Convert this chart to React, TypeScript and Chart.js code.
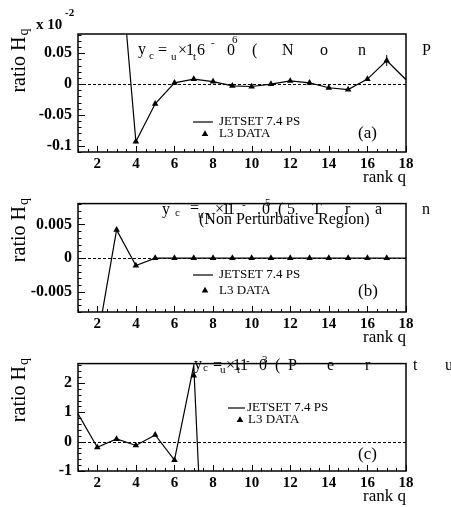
import React, { useEffect, useRef } from "react";
import { Chart, registerables } from "chart.js";
Chart.register(...registerables);

const FONT = '"Liberation Serif", "Times New Roman", serif';

// x axis (rank q)
const Q_TICKS = [2, 4, 6, 8, 10, 12, 14, 16, 18];

// Panel (a)
const A_JETSET_Q = [3, 4, 5, 6, 7, 8, 9, 10, 11, 12, 13, 14, 15, 16, 17, 18];
const A_JETSET = [0.27, -0.093, -0.032, 0.002, 0.008, 0.004, -0.003, -0.004, 0.0, 0.005, 0.002, -0.006, -0.009, 0.008, 0.038, 0.007];
const A_L3_Q = [4, 5, 6, 7, 8, 9, 10, 11, 12, 13, 14, 15, 16, 17];
const A_L3 = [-0.093, -0.032, 0.002, 0.008, 0.004, -0.003, -0.004, 0.0, 0.005, 0.002, -0.006, -0.009, 0.008, 0.038];
const A_L3_ERR = [0, 0, 0, 0, 0, 0, 0, 0, 0, 0, 0, 0, 0, 0.009];
const A_Y_TICKS = [-0.1, -0.05, 0, 0.05];
const A_Y_LABELS = ["-0.1", "-0.05", "0", "0.05"];

// Panel (b)
const B_JETSET_Q = [2, 3, 4, 5, 6, 7, 8, 9, 10, 11, 12, 13, 14, 15, 16, 17, 18];
const B_JETSET = [-0.0123, 0.0042, -0.0011, 0, 0, 0, 0, 0, 0, 0, 0, 0, 0, 0, 0, 0, 0];
const B_L3_Q = [3, 4, 5, 6, 7, 8, 9, 10, 11, 12, 13, 14, 15, 16, 17];
const B_L3 = [0.0042, -0.0011, 0, 0, 0, 0, 0, 0, 0, 0, 0, 0, 0, 0, 0];
const B_L3_ERR = [0, 0, 0, 0, 0, 0, 0, 0, 0, 0, 0, 0, 0, 0, 0];
const B_Y_TICKS = [-0.005, 0, 0.005];
const B_Y_LABELS = ["-0.005", "0", "0.005"];

// Panel (c)
const C_JETSET_Q = [1, 2, 3, 4, 5, 6, 7, 8];
const C_JETSET = [0.95, -0.19, 0.09, -0.13, 0.23, -0.63, 2.6, -11.8];
const C_L3_Q = [2, 3, 4, 5, 6, 7];
const C_L3 = [-0.19, 0.09, -0.13, 0.23, -0.63, 2.25];
const C_L3_ERR = [0, 0, 0, 0, 0, 0];
const C_Y_TICKS = [-1, 0, 1, 2];
const C_Y_LABELS = ["-1", "0", "1", "2"];

type Glyph = [string, number, number, number];

interface PanelDef {
  top: number;
  height: number;
  padTop: number;
  yMin: number;
  yMax: number;
  yMinor: number;
  yMajor: number;
  jq: number[];
  jv: number[];
  lq: number[];
  lv: number[];
  le: number[];
  yt: number[];
  yl: string[];
  tag: string;
  legend: { lx1: number; lx2: number; ly: number; tx: number; tx2: number; triX: number; triY: number; tagX: number; tagY: number };
  glyphs: Glyph[];
  multiplier: boolean;
}

const PANELS: PanelDef[] = [
  {
    top: 0, height: 188, padTop: 34,
    yMin: -0.11, yMax: 0.081, yMinor: 0.01, yMajor: 0.05,
    jq: A_JETSET_Q, jv: A_JETSET, lq: A_L3_Q, lv: A_L3, le: A_L3_ERR,
    yt: A_Y_TICKS, yl: A_Y_LABELS, tag: "(a)",
    legend: { lx1: 193, lx2: 213, ly: 122, tx: 219, tx2: 219, triX: 205, triY: 134, tagX: 358, tagY: 134 },
    glyphs: [
      ["y", 138, 50, 16], ["c", 149, 56, 11], ["=", 158, 51, 16], ["u", 171, 57, 11],
      ["\u00d7", 178, 51, 16], ["1", 186, 51, 16], ["t", 193, 57, 11], ["6", 197, 51, 16],
      ["-", 211, 43, 11], ["0", 227, 51, 16], ["6", 232, 40, 11], ["(", 252, 51, 16],
      ["N", 282, 51, 16], ["o", 320, 51, 16], ["n", 358, 51, 16], ["P", 422, 51, 16],
    ],
    multiplier: true,
  },
  {
    top: 188, height: 160, padTop: 5,
    yMin: -0.008, yMax: 0.0081, yMinor: 0.001, yMajor: 0.005,
    jq: B_JETSET_Q, jv: B_JETSET, lq: B_L3_Q, lv: B_L3, le: B_L3_ERR,
    yt: B_Y_TICKS, yl: B_Y_LABELS, tag: "(b)",
    legend: { lx1: 193, lx2: 213, ly: 87, tx: 219, tx2: 219, triX: 205, triY: 102.5, tagX: 358, tagY: 103.5 },
    glyphs: [
      ["y", 162, 22, 16], ["c", 175, 25, 11], ["=", 190, 21, 16], ["u", 198, 27, 11],
      ["\u00d7", 215, 22, 16], ["1", 222, 22, 16], ["t", 207, 28, 11], ["1", 227, 22, 16],
      ["-", 242, 17, 11], [".", 257, 22, 16], ["0", 262, 22, 16], ["5", 265, 15, 11],
      ["(", 278, 22, 16], ["5", 287, 22, 16], ["T", 312, 22, 16], ["r", 345, 22, 16],
      ["a", 375, 22, 16], ["n", 422, 22, 16],
      ["(Non Perturbative Region)", 199, 32, 16],
    ],
    multiplier: false,
  },
  {
    top: 348, height: 159, padTop: 5,
    yMin: -1, yMax: 2.66, yMinor: 0.2, yMajor: 1,
    jq: C_JETSET_Q, jv: C_JETSET, lq: C_L3_Q, lv: C_L3, le: C_L3_ERR,
    yt: C_Y_TICKS, yl: C_Y_LABELS, tag: "(c)",
    legend: { lx1: 228, lx2: 245, ly: 60, tx: 247, tx2: 248, triX: 240, triY: 72, tagX: 358, tagY: 107 },
    glyphs: [
      ["y", 194, 17, 16], ["c", 203, 20, 11], ["=", 213, 18, 16], ["u", 220, 22, 11],
      ["\u00d7", 226, 18, 16], ["1", 233, 18, 16], ["t", 237, 22, 11], ["1", 240, 18, 16],
      ["-", 246, 13, 11], ["0", 259, 18, 16], ["3", 262, 12, 11], ["(", 275, 18, 16],
      ["P", 288, 18, 16], ["e", 327, 18, 16], ["r", 365, 18, 16], ["t", 413, 18, 16],
      ["u", 445, 18, 16],
    ],
    multiplier: false,
  },
];

function triangle(ctx: CanvasRenderingContext2D, x: number, y: number, r: number) {
  ctx.beginPath();
  let rad = 0;
  ctx.moveTo(x + Math.sin(rad) * r, y - Math.cos(rad) * r);
  rad += (2 * Math.PI) / 3;
  ctx.lineTo(x + Math.sin(rad) * r, y - Math.cos(rad) * r);
  rad += (2 * Math.PI) / 3;
  ctx.lineTo(x + Math.sin(rad) * r, y - Math.cos(rad) * r);
  ctx.closePath();
  ctx.fill();
}

function makePlugin(p: PanelDef) {
  return {
    id: "deco",
    beforeDatasetsDraw(chart: any) {
      const { ctx, chartArea: a, scales } = chart;
      const y0 = scales.y.getPixelForValue(0);
      ctx.save();
      ctx.strokeStyle = "#000";
      ctx.lineWidth = 1;
      ctx.setLineDash([3, 2]);
      ctx.beginPath();
      ctx.moveTo(a.left, Math.round(y0) + 0.5);
      ctx.lineTo(a.right, Math.round(y0) + 0.5);
      ctx.stroke();
      ctx.restore();
    },
    afterDraw(chart: any) {
      const { ctx, chartArea: a, scales } = chart;
      const xs = scales.x;
      const ys = scales.y;
      ctx.save();
      ctx.strokeStyle = "#000";
      ctx.fillStyle = "#000";
      // error bars
      ctx.lineWidth = 1;
      p.lq.forEach((q, i) => {
        const e = p.le[i];
        if (!e) return;
        const px = xs.getPixelForValue(q);
        ctx.beginPath();
        ctx.moveTo(px, ys.getPixelForValue(p.lv[i] - e));
        ctx.lineTo(px, ys.getPixelForValue(p.lv[i] + e));
        ctx.stroke();
      });
      // frame
      ctx.lineWidth = 1.5;
      ctx.strokeRect(a.left, a.top, a.right - a.left, a.bottom - a.top);
      // x ticks (inward)
      ctx.lineWidth = 1;
      for (let k = 2; k <= 36; k++) {
        const v = k / 2;
        const px = Math.round(xs.getPixelForValue(v)) + 0.5;
        const len = k % 4 === 0 ? 6 : 3;
        ctx.beginPath();
        ctx.moveTo(px, a.bottom);
        ctx.lineTo(px, a.bottom - len);
        ctx.stroke();
      }
      // y ticks (inward)
      const n0 = Math.ceil(p.yMin / p.yMinor - 1e-6);
      const n1 = Math.floor(p.yMax / p.yMinor + 1e-6);
      const ratio = Math.round(p.yMajor / p.yMinor);
      for (let n = n0; n <= n1; n++) {
        const py = Math.round(ys.getPixelForValue(n * p.yMinor)) + 0.5;
        const len = n % ratio === 0 ? 7 : 3.5;
        ctx.beginPath();
        ctx.moveTo(a.left, py);
        ctx.lineTo(a.left + len, py);
        ctx.stroke();
      }
      // annotation glyphs
      ctx.textAlign = "left";
      ctx.textBaseline = "middle";
      p.glyphs.forEach(([t, x, y, s]) => {
        ctx.font = `${s}px ${FONT}`;
        ctx.fillText(t, x, y);
      });
      // legend
      const L = p.legend;
      ctx.lineWidth = 1.2;
      ctx.beginPath();
      ctx.moveTo(L.lx1, L.ly);
      ctx.lineTo(L.lx2, L.ly);
      ctx.stroke();
      triangle(ctx, L.triX, L.triY, 3.8);
      ctx.font = `13px ${FONT}`;
      ctx.fillText("JETSET 7.4 PS", L.tx, L.ly);
      ctx.fillText("L3 DATA", L.tx2, L.triY);
      ctx.font = `17px ${FONT}`;
      ctx.fillText(p.tag, L.tagX, L.tagY);
      // y title: ratio H_q
      ctx.save();
      ctx.translate(25, a.top + 27);
      ctx.rotate(-Math.PI / 2);
      ctx.textBaseline = "alphabetic";
      ctx.font = `20px ${FONT}`;
      const w1 = ctx.measureText("ratio H").width;
      ctx.font = `14px ${FONT}`;
      const w2 = ctx.measureText("q").width;
      const start = -(w1 + w2) / 2;
      ctx.font = `20px ${FONT}`;
      ctx.fillText("ratio H", start, 0);
      ctx.font = `14px ${FONT}`;
      ctx.fillText("q", start + w1 + 1, 3);
      ctx.restore();
      if (p.multiplier) {
        ctx.font = `bold 15px ${FONT}`;
        ctx.textBaseline = "middle";
        ctx.fillText("x 10", 36, 25);
        ctx.font = `bold 11px ${FONT}`;
        ctx.fillText("-2", 65, 13);
      }
      ctx.restore();
    },
  };
}

function buildConfig(p: PanelDef): any {
  return {
    type: "line",
    data: {
      datasets: [
        {
          label: "JETSET 7.4 PS",
          data: p.jq.map((q, i) => ({ x: q, y: p.jv[i] })),
          borderColor: "#000",
          borderWidth: 1.2,
          pointRadius: 0,
          tension: 0,
          fill: false,
        },
        {
          label: "L3 DATA",
          data: p.lq.map((q, i) => ({ x: q, y: p.lv[i] })),
          showLine: false,
          pointStyle: "triangle",
          pointRadius: 3.8,
          backgroundColor: "#000",
          borderColor: "#000",
          borderWidth: 0,
        },
      ],
    },
    options: {
      responsive: false,
      animation: false,
      devicePixelRatio: 1,
      layout: { padding: { top: p.padTop, right: 45, left: 0, bottom: 0 } },
      plugins: { legend: { display: false }, tooltip: { enabled: false } },
      scales: {
        x: {
          type: "linear",
          min: 1,
          max: 18,
          grid: { display: false, drawTicks: false },
          border: { display: false },
          afterFit: (s: any) => { s.height = 36; },
          afterBuildTicks: (s: any) => { s.ticks = Q_TICKS.map((v) => ({ value: v })); },
          ticks: {
            padding: 3,
            autoSkip: false,
            maxRotation: 0,
            color: "#000",
            font: { family: FONT, size: 15, weight: "bold" },
            callback: (v: any) => String(v),
          },
          title: {
            display: true,
            text: "rank q",
            align: "end",
            color: "#000",
            font: { family: FONT, size: 17 },
            padding: { top: 0, bottom: 0 },
          },
        },
        y: {
          type: "linear",
          min: p.yMin,
          max: p.yMax,
          grid: { display: false, drawTicks: false },
          border: { display: false },
          afterFit: (s: any) => { s.width = 78; },
          afterBuildTicks: (s: any) => { s.ticks = p.yt.map((v) => ({ value: v })); },
          ticks: {
            padding: 6,
            color: "#000",
            font: { family: FONT, size: 16, weight: "bold" },
            callback: (v: any) => {
              const i = p.yt.findIndex((t) => Math.abs(t - v) < 1e-9);
              return i >= 0 ? p.yl[i] : "";
            },
          },
        },
      },
    },
    plugins: [makePlugin(p)],
  };
}

function Panel({ p }: { p: PanelDef }) {
  const ref = useRef<HTMLCanvasElement>(null);
  useEffect(() => {
    const chart = new Chart(ref.current as HTMLCanvasElement, buildConfig(p));
    return () => chart.destroy();
  }, [p]);
  return (
    <canvas
      ref={ref}
      width={451}
      height={p.height}
      style={{ position: "absolute", left: 0, top: p.top, width: 451, height: p.height }}
    />
  );
}

export default function App() {
  return (
    <div style={{ position: "absolute", left: 0, top: 0, width: 451, height: 507, background: "#fff", overflow: "hidden" }}>
      {PANELS.map((p, i) => (
        <Panel key={i} p={p} />
      ))}
    </div>
  );
}
